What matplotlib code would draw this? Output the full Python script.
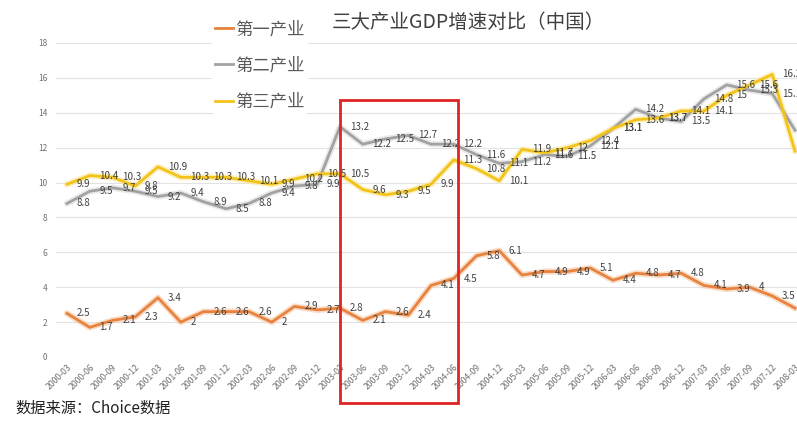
import matplotlib
matplotlib.use('Agg')
import matplotlib.pyplot as plt
from matplotlib.lines import Line2D
from matplotlib.patches import Rectangle

plt.rcParams['font.family'] = ['Noto Sans CJK SC', 'DejaVu Sans']

# 季度标签
quarters = ['2000-03', '2000-06', '2000-09', '2000-12',
            '2001-03', '2001-06', '2001-09', '2001-12',
            '2002-03', '2002-06', '2002-09', '2002-12',
            '2003-03', '2003-06', '2003-09', '2003-12',
            '2004-03', '2004-06', '2004-09', '2004-12',
            '2005-03', '2005-06', '2005-09', '2005-12',
            '2006-03', '2006-06', '2006-09', '2006-12',
            '2007-03', '2007-06', '2007-09', '2007-12',
            '2008-03']

# 第一产业
primary = [2.5, 1.7, 2.1, 2.3, 3.4, 2, 2.6, 2.6, 2.6, 2, 2.9, 2.7,
           2.8, 2.1, 2.6, 2.4, 4.1, 4.5, 5.8, 6.1, 4.7, 4.9, 4.9, 5.1,
           4.4, 4.8, 4.7, 4.8, 4.1, 3.9, 4, 3.5, 2.8]
# 第二产业
secondary = [8.8, 9.5, 9.7, 9.5, 9.2, 9.4, 8.9, 8.5, 8.8, 9.4, 9.8, 9.9,
             13.2, 12.2, 12.5, 12.7, 12.2, 12.2, 11.6, 11.1, 11.2, 11.6, 11.5, 12.1,
             13.1, 14.2, 13.7, 13.5, 14.8, 15.6, 15.3, 15.1, 13.0]
# 第三产业
tertiary = [9.9, 10.4, 10.3, 9.8, 10.9, 10.3, 10.3, 10.3, 10.1, 9.9, 10.2, 10.5,
            10.5, 9.6, 9.3, 9.5, 9.9, 11.3, 10.8, 10.1, 11.9, 11.7, 12, 12.4,
            13.1, 13.6, 13.7, 14.1, 14.1, 15, 15.6, 16.2, 11.8]

series = [('第一产业', primary, '#E8823F', '#F5C7A4'),
          ('第二产业', secondary, '#A2A2A2', '#DCDCDC'),
          ('第三产业', tertiary, '#F2C318', '#FBE79A')]

W, H = 797, 425
fig = plt.figure(figsize=(W / 100, H / 100), dpi=100)
ax = fig.add_axes([55.6 / W, 1 - 357 / H, (W - 55.6) / W, (357 - 43) / H])

x = list(range(len(quarters)))
for name, vals, col, glow in series:
    ax.plot(x, vals, color=glow, lw=4.5, alpha=0.6, solid_capstyle='round', zorder=2)
    ax.plot(x, vals, color=col, lw=2, solid_joinstyle='round', zorder=3)
    for i, v in enumerate(vals):
        ax.annotate(f'{v:g}', (i, v), xytext=(7, 0), textcoords='offset points',
                    ha='left', va='center', fontsize=7, color='#404040', zorder=4,
                    annotation_clip=False)

ax.set_xlim(-0.5, (W - 67) / 22.75)
ax.set_ylim(0, 18)
ax.set_yticks(range(0, 19, 2))
ax.set_xticks(x)
ax.set_xticklabels(quarters, rotation=45, ha='right', rotation_mode='anchor',
                   fontsize=6.3, color='#707070')
ax.tick_params(axis='y', labelsize=6, labelcolor='#707070', length=0, pad=6)
ax.tick_params(axis='x', length=0, pad=4)
ax.grid(axis='y', color='#E3E3E3', lw=0.8)
ax.set_axisbelow(True)
for s in ax.spines.values():
    s.set_visible(False)

# 红框
rect = Rectangle((12, -2.64), 5.19, 17.38, fill=False, edgecolor='#E02424',
                 lw=2, clip_on=False, zorder=6)
ax.add_patch(rect)

handles = [Line2D([], [], color=c, lw=2) for _, _, c, _ in series]
leg = fig.legend(handles, [s[0] for s in series], loc='upper left',
                 bbox_to_anchor=(203 / W, 1 - 8 / H), fontsize=12.5,
                 handlelength=1.0, handletextpad=0.15, labelspacing=1.05,
                 frameon=True, facecolor='white', edgecolor='none', framealpha=1,
                 borderpad=0.2)
for t in leg.get_texts():
    t.set_color('#595959')

fig.text(468 / W, 1 - 22 / H, '三大产业GDP增速对比（中国）', ha='center', va='center',
         fontsize=14, color='#404040')
fig.text(15 / W, 1 - 408 / H, '数据来源：Choice数据', ha='left', va='center',
         fontsize=11, color='#202020', style='italic')

fig.savefig('out.png', dpi=100)
